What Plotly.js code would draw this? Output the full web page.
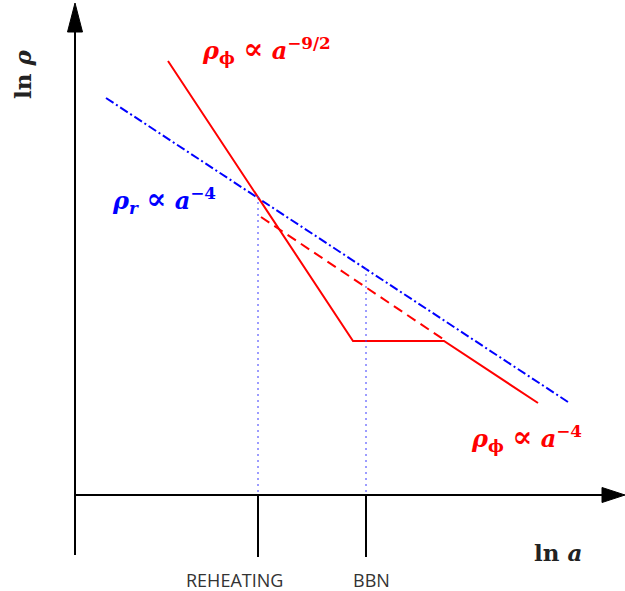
<!DOCTYPE html>
<html>
<head>
<meta charset="utf-8">
<script src="https://cdn.plot.ly/plotly-3.0.1.min.js"></script>
<style>
  body { margin: 0; background: #fff; }
  #chart { width: 625px; height: 591px; }
</style>
</head>
<body>
<div id="chart"></div>
<script>
// schematic: ln(rho) against ln(a), origin where the axes cross
const radiationX = [31, 493];
const radiationY = [397, 93];

const inflatonX = [93, 278, 369, 463];
const inflatonY = [434, 154, 154, 92];

// inflaton without the late plateau
const inflatonDashX = [186, 368];
const inflatonDashY = [278, 156];

const eventNames = ['REHEATING', 'BBN'];
const eventX = [183, 291];
const eventTop = [299, 227];
const eventLabelX = [159, 296];

const axisLenX = 550;
const axisLenY = 492;
const axisBelow = -60;
const tickBelow = -62;

const red = '#ff0000';
const blue = '#0000ff';

const traces = [
  {
    x: radiationX, y: radiationY, mode: 'lines',
    line: { color: blue, width: 2, dash: '9px,3px,2px,3px' }
  },
  {
    x: inflatonX, y: inflatonY, mode: 'lines',
    line: { color: red, width: 2 }
  },
  {
    x: inflatonDashX, y: inflatonDashY, mode: 'lines',
    line: { color: red, width: 2, dash: '10px,6px' }
  }
];

eventX.forEach((ex, i) => {
  traces.push({
    x: [ex, ex], y: [eventTop[i], 0], mode: 'lines',
    line: { color: '#3b3bff', width: 1, dash: '2px,4px' }
  });
});

const shapes = [
  { type: 'line', x0: 0, x1: axisLenX - 20, y0: 0, y1: 0, line: { color: 'black', width: 2 } },
  { type: 'line', x0: 0, x1: 0, y0: axisBelow, y1: axisLenY - 25, line: { color: 'black', width: 2 } },
  {
    type: 'path', fillcolor: 'black', line: { color: 'black', width: 1 },
    path: `M ${axisLenX} 0 L ${axisLenX - 23} 7.5 L ${axisLenX - 23} -7.5 Z`
  },
  {
    type: 'path', fillcolor: 'black', line: { color: 'black', width: 1 },
    path: `M 0 ${axisLenY} L -7.5 ${axisLenY - 29} L 7.5 ${axisLenY - 29} Z`
  }
];

eventX.forEach(ex => {
  shapes.push({ type: 'line', x0: ex, x1: ex, y0: 0, y1: tickBelow, line: { color: 'black', width: 2 } });
});

const mathFont = { family: 'DejaVu Serif', size: 24 };
const prop = '<span style="font-size:30px">∝</span>';

const annotations = [
  {
    x: 266 - 75, y: 446, showarrow: false,
    text: '<b><i>ρ</i><sub>ϕ</sub> ' + prop + ' <i>a</i><sup>−9/2</sup></b>',
    font: Object.assign({}, mathFont, { color: red })
  },
  {
    x: 164 - 75, y: 296, showarrow: false,
    text: '<b><i>ρ</i><sub><i>r</i></sub> ' + prop + ' <i>a</i><sup>−4</sup></b>',
    font: Object.assign({}, mathFont, { color: blue })
  },
  {
    x: 526 - 75, y: 58, showarrow: false,
    text: '<b><i>ρ</i><sub>ϕ</sub> ' + prop + ' <i>a</i><sup>−4</sup></b>',
    font: Object.assign({}, mathFont, { color: red })
  },
  {
    x: -53, y: 420, showarrow: false, textangle: -90,
    text: '<b>ln <i>ρ</i></b>',
    font: { family: 'DejaVu Serif', size: 23, color: '#222' }
  },
  {
    x: 483, y: -57, showarrow: false,
    text: '<b>ln <i>a</i></b>',
    font: { family: 'DejaVu Serif', size: 23, color: '#222' }
  }
];

eventNames.forEach((name, i) => {
  annotations.push({
    x: eventLabelX[i], y: -85, showarrow: false, text: name,
    font: { family: 'Open Sans', size: 18, color: '#333' }
  });
});

const layout = {
  width: 625, height: 591,
  margin: { l: 0, r: 0, t: 0, b: 0 },
  xaxis: { range: [-75, 550], visible: false, fixedrange: true },
  yaxis: { range: [-96, 495], visible: false, fixedrange: true },
  showlegend: false,
  shapes: shapes,
  annotations: annotations,
  plot_bgcolor: 'white',
  paper_bgcolor: 'white'
};

Plotly.newPlot('chart', traces, layout, { displayModeBar: false, staticPlot: true });
</script>
</body>
</html>
